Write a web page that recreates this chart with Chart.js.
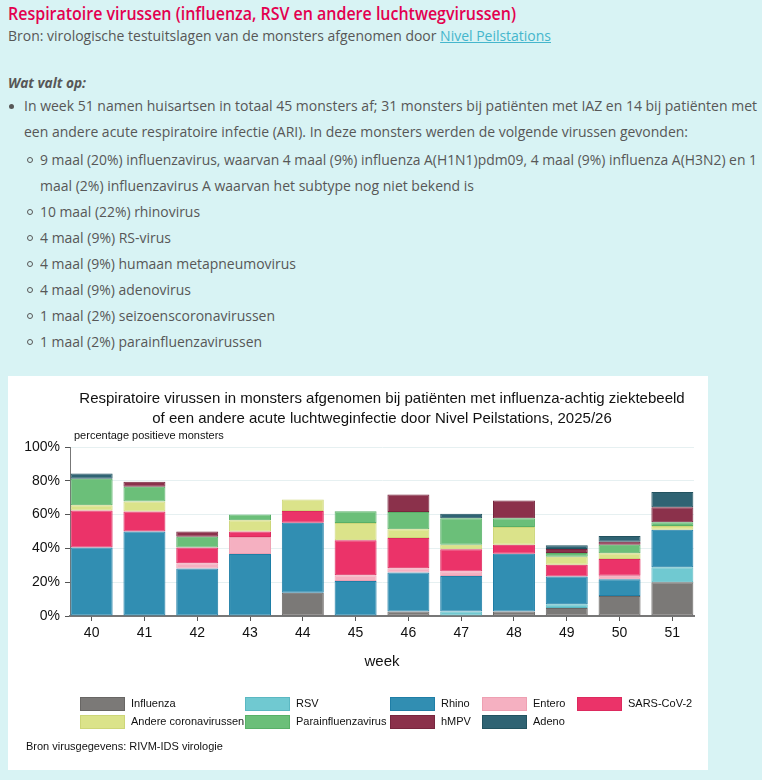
<!DOCTYPE html>
<html>
<head>
<meta charset="utf-8">
<script src="https://cdn.jsdelivr.net/npm/chart.js@4.4.1/dist/chart.umd.min.js"></script>
<style>
  body { margin: 0; width: 762px; height: 780px; overflow: hidden; background: #d8f3f4; font-family: "Open Sans", sans-serif; color: #575757; }
  .line { position: absolute; white-space: nowrap; font-size: 14px; line-height: 20px; transform-origin: left center; }
  .head { font-size: 18px; line-height: 24px; font-weight: 600; color: #e3004f; }
  .line a { color: #45b6cc; text-decoration: underline; }
  .dot { position: absolute; left: 9px; width: 5px; height: 5px; border-radius: 50%; background: #575757; }
  .ring { position: absolute; left: 27px; width: 4px; height: 4px; border-radius: 50%; border: 1px solid #575757; }
  #box { position: absolute; left: 8px; top: 376px; width: 700px; height: 394px; background: #fff; }
</style>
</head>
<body>
<div class="line head" style="left:8px;top:1px" data-w="508">Respiratoire virussen (influenza, RSV en andere luchtwegvirussen)</div>
<div class="line" style="left:8px;top:26px" data-w="543">Bron: virologische testuitslagen van de monsters afgenomen door <a>Nivel Peilstations</a></div>
<div class="line" style="left:8px;top:73px;font-weight:700;font-style:italic" data-w="78">Wat valt op:</div>

<span class="dot" style="top:104px"></span>
<div class="line" style="left:24px;top:96px" data-w="733">In week 51 namen huisartsen in totaal 45 monsters af; 31 monsters bij patiënten met IAZ en 14 bij patiënten met</div>
<div class="line" style="left:24px;top:122px" data-w="664">een andere acute respiratoire infectie (ARI). In deze monsters werden de volgende virussen gevonden:</div>

<span class="ring" style="top:157px"></span>
<div class="line" style="left:40px;top:150px" data-w="717">9 maal (20%) influenzavirus, waarvan 4 maal (9%) influenza A(H1N1)pdm09, 4 maal (9%) influenza A(H3N2) en 1</div>
<div class="line" style="left:40px;top:176px" data-w="434">maal (2%) influenzavirus A waarvan het subtype nog niet bekend is</div>
<span class="ring" style="top:209px"></span>
<div class="line" style="left:40px;top:202px" data-w="160">10 maal (22%) rhinovirus</div>
<span class="ring" style="top:235px"></span>
<div class="line" style="left:40px;top:228px" data-w="131">4 maal (9%) RS-virus</div>
<span class="ring" style="top:261px"></span>
<div class="line" style="left:40px;top:254px" data-w="256">4 maal (9%) humaan metapneumovirus</div>
<span class="ring" style="top:287px"></span>
<div class="line" style="left:40px;top:280px" data-w="151">4 maal (9%) adenovirus</div>
<span class="ring" style="top:313px"></span>
<div class="line" style="left:40px;top:306px" data-w="235">1 maal (2%) seizoenscoronavirussen</div>
<span class="ring" style="top:339px"></span>
<div class="line" style="left:40px;top:332px" data-w="222">1 maal (2%) parainfluenzavirussen</div>

<div id="box"><canvas id="virusChart" width="700" height="394"></canvas></div>

<script>
// fit the narrow site font
document.querySelectorAll(".line").forEach((el) => {
  const w = el.getBoundingClientRect().width;
  el.style.transform = "scaleX(" + el.dataset.w / w + ")";
});

const weeks = [40, 41, 42, 43, 44, 45, 46, 47, 48, 49, 50, 51];
const yTicks = [0, 20, 40, 60, 80, 100];

// percentage positive per week
const influenza = [0, 0, 0, 0, 13.8, 0, 2.6, 0, 2.6, 4.7, 11.9, 20.0];
const rsv = [0, 0, 0, 0, 0, 0, 0, 2.6, 0, 2.3, 0, 8.9];
const rhino = [40.6, 50.0, 28.1, 36.7, 41.4, 20.7, 23.1, 21.1, 34.2, 16.3, 9.9, 22.2];
const entero = [0, 0, 3.1, 10.0, 0, 3.4, 2.6, 2.6, 0, 0, 2.0, 0];
const sarsCov2 = [21.9, 11.8, 9.4, 3.3, 6.9, 20.7, 17.9, 13.2, 5.3, 7.0, 9.9, 0];
const andereCorona = [3.1, 5.9, 0, 6.7, 6.9, 10.3, 5.1, 2.6, 10.5, 4.7, 3.5, 2.2];
const parainfluenza = [15.6, 8.8, 6.3, 3.3, 0, 6.9, 10.3, 15.8, 5.3, 2.3, 5.0, 2.2];
const hmpv = [0, 2.9, 3.1, 0, 0, 0, 10.3, 0, 10.5, 2.3, 1.8, 8.9];
const adeno = [3.1, 0, 0, 0, 0, 0, 0, 2.6, 0, 2.3, 3.3, 8.9];

const seriesNames = ["Influenza", "RSV", "Rhino", "Entero", "SARS-CoV-2",
  "Andere coronavirussen", "Parainfluenzavirus", "hMPV", "Adeno"];
const seriesValues = [influenza, rsv, rhino, entero, sarsCov2, andereCorona, parainfluenza, hmpv, adeno];

const fillColors = ["#7b7977", "#70c9d1", "#318eb2", "#f5b0c1", "#eb3369",
  "#dbe38a", "#6bbf79", "#8b314b", "#2f6373"];
const lineColors = ["#686664", "#5bb8c2", "#1f7ea6", "#eea0b2", "#dd2a5e",
  "#cdd678", "#58b067", "#77263e", "#22525f"];

const FONT = '"Liberation Sans", Arial, sans-serif';
const titleLines = [
  "Respiratoire virussen in monsters afgenomen bij patiënten met influenza-achtig ziektebeeld",
  "of een andere acute luchtweginfectie door Nivel Peilstations, 2025/26",
];

const datasets = seriesNames.map((name, k) => ({
  label: name,
  data: weeks.map((w, i) => ({ x: w, y: seriesValues[k][i] || null })),
  backgroundColor: fillColors[k],
  borderColor: lineColors[k],
  borderWidth: 1,
  borderSkipped: false,
  categoryPercentage: 1,
  barPercentage: 0.795,
}));

// title, axis note, legend grid and source line
const extraText = {
  id: "extraText",
  afterDraw(chart) {
    const { ctx, chartArea } = chart;
    const mid = (chartArea.left + chartArea.right) / 2;
    ctx.save();
    ctx.fillStyle = "#111";
    ctx.textBaseline = "middle";
    ctx.textAlign = "center";
    ctx.font = "15px " + FONT;
    ctx.fillText(titleLines[0], mid, 23);
    ctx.fillText(titleLines[1], mid, 43);

    ctx.textAlign = "left";
    ctx.font = "11px " + FONT;
    ctx.fillText("percentage positieve monsters", chartArea.left + 4, 60);

    const cols = [72, 237, 382, 474, 569];
    const rows = [328, 346];
    chart.data.datasets.forEach((ds, i) => {
      const x = cols[i % 5];
      const y = rows[Math.floor(i / 5)];
      ctx.fillStyle = ds.backgroundColor;
      ctx.fillRect(x, y - 7, 45, 14);
      ctx.strokeStyle = ds.borderColor;
      ctx.lineWidth = 1;
      ctx.strokeRect(x + 0.5, y - 6.5, 44, 13);
      ctx.fillStyle = "#111";
      ctx.fillText(ds.label, x + 51, y);
    });

    ctx.fillText("Bron virusgegevens: RIVM-IDS virologie", 18, 371);
    ctx.restore();
  },
};

new Chart(document.getElementById("virusChart"), {
  type: "bar",
  data: { datasets: datasets },
  options: {
    responsive: false,
    animation: false,
    layout: { padding: { top: 71, left: 0, right: 14, bottom: 95 } },
    plugins: {
      legend: { display: false },
      title: { display: false },
      tooltip: { enabled: false },
    },
    scales: {
      x: {
        type: "linear",
        min: 39.59,
        max: 51.41,
        offset: false,
        stacked: true,
        afterBuildTicks: (s) => {
          s.ticks = weeks.map((w) => ({ value: w }));
        },
        afterFit: (s) => { s.height = 59; },
        ticks: { stepSize: 1, autoSkip: false, maxRotation: 0, padding: 4, color: "#111", font: { size: 14, family: FONT } },
        grid: { offset: false, drawOnChartArea: false, tickLength: 5, tickColor: "#555" },
        border: { color: "#777", width: 2 },
        title: { display: true, text: "week", color: "#111", font: { size: 15, family: FONT }, padding: { top: 4, bottom: 4 } },
      },
      y: {
        min: 0,
        max: 100,
        stacked: true,
        afterBuildTicks: (s) => {
          s.ticks = yTicks.map((v) => ({ value: v }));
        },
        afterFit: (s) => { s.width = 62; },
        ticks: { padding: 5, color: "#111", font: { size: 14, family: FONT }, callback: (v) => v + "%" },
        grid: { color: "#e6f0f1", tickLength: 5, tickColor: "#555" },
        border: { color: "#777", width: 1 },
      },
    },
  },
  plugins: [extraText],
});
</script>
</body>
</html>
